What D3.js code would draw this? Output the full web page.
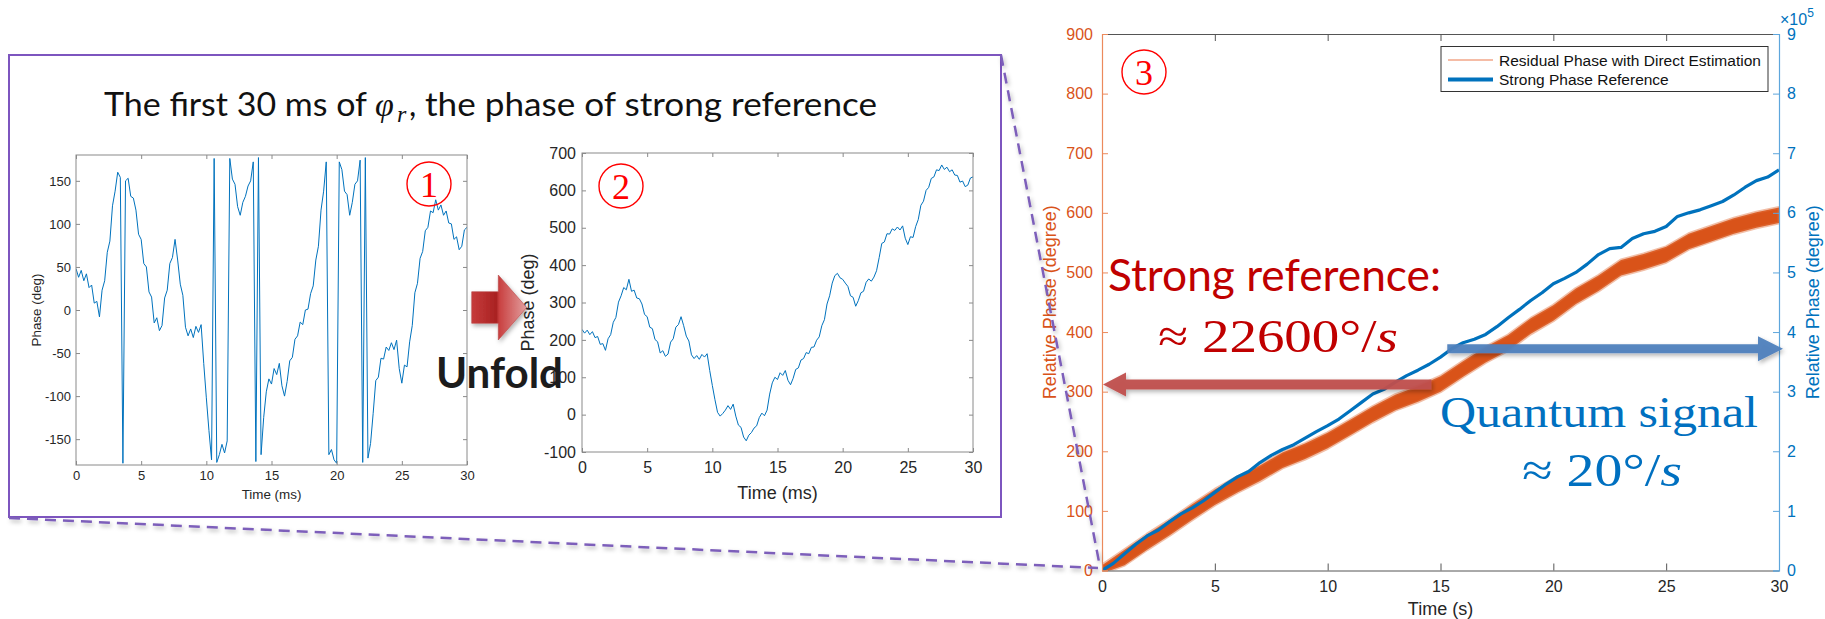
<!DOCTYPE html>
<html>
<head>
<meta charset="utf-8">
<script src="https://cdn.jsdelivr.net/npm/d3@7"></script>
<style>
  body { margin: 0; background: #fff; }
</style>
</head>
<body>
<div id="viz-wrapper"></div>
<script>
// ---------------- data ----------------
// unfolded phase of the strong reference, first 30 ms (deg), one sample every 0.2 ms
var sampleStep = 0.2;
var unfoldedPhase = [
  228, 218, 226, 214, 222, 206, 209, 188, 190, 172,
  203, 214, 247, 260, 301, 318, 340, 334, 362, 330,
  333, 312, 310, 296, 268, 262, 234, 230, 201, 195,
  165, 171, 156, 162, 194, 203, 234, 241, 262, 238,
  210, 197, 160, 150, 158, 148, 161, 154, 163, 118,
  78, 40, 6, -4, 3, 12, 24, 14, 28, -4,
  -28, -34, -60, -70, -55, -48, -36, -30, -8, 4,
  -3, 12, 55, 85, 100, 94, 112, 105, 118, 92,
  80, 97, 121, 125, 146, 150, 166, 163, 180, 181,
  199, 208, 238, 254, 296, 318, 352, 372, 378, 366,
  362, 352, 343, 318, 314, 290, 305, 326, 330, 354,
  363, 357, 368, 385, 420, 458, 462, 484, 483, 497,
  493, 502, 494, 505, 472, 455, 476, 474, 503, 522,
  560, 571, 600, 608, 632, 636, 655, 653, 668, 656,
  662, 650, 655, 641, 640, 622, 625, 610, 614, 633,
  636
];
var msTicks = [0, 5, 10, 15, 20, 25, 30];
var foldedTicks = [-150, -100, -50, 0, 50, 100, 150];
var unfoldedTicks = [-100, 0, 100, 200, 300, 400, 500, 600, 700];

// 30 s record: residual phase band edges (deg), every 1 s
var residualTime = [0, 1, 2, 3, 4, 5, 6, 7, 8, 9, 10, 11, 12, 13, 14, 15, 16, 17, 18, 19, 20, 21, 22, 23, 24, 25, 26, 27, 28, 29, 30];
var residualLow  = [-5, 9, 35, 59, 85, 110, 131, 150, 172, 187, 205, 227, 249, 269, 283, 300, 325, 349, 369, 397, 419, 447, 469, 495, 505, 517, 539, 552, 565, 575, 583];
var residualHigh = [9, 35, 61, 85, 111, 136, 157, 176, 198, 213, 231, 253, 275, 295, 309, 326, 351, 375, 395, 423, 445, 473, 495, 521, 531, 543, 565, 578, 591, 601, 609];
// strong phase reference (deg), every 0.5 s
var referenceTime = [0, 0.5, 1, 1.5, 2, 2.5, 3, 3.5, 4, 4.5, 5, 5.5, 6, 6.5, 7, 7.5, 8, 8.5, 9, 9.5, 10,
  10.5, 11, 11.5, 12, 12.5, 13, 13.5, 14, 14.5, 15, 15.5, 16, 16.5, 17, 17.5, 18, 18.5, 19, 19.5, 20,
  20.5, 21, 21.5, 22, 22.5, 23, 23.5, 24, 24.5, 25, 25.5, 26, 26.5, 27, 27.5, 28, 28.5, 29, 29.5, 30];
var referencePhase = [0, 12000, 28000, 44000, 58000, 68000, 82000, 95000, 105000, 117000, 131000,
  145000, 157000, 166000, 181000, 193000, 203000, 211000, 222000, 233000, 243000,
  254000, 268000, 282000, 296000, 304000, 316000, 327000, 336000, 346000, 358000,
  372000, 382000, 388000, 396000, 409000, 424000, 438000, 453000, 466000, 481000,
  490000, 500000, 514000, 530000, 540000, 542000, 557000, 565000, 569000, 577000,
  594000, 600000, 605000, 612000, 619000, 630000, 643000, 654000, 660000, 672000];
var secTicks = [0, 5, 10, 15, 20, 25, 30];
var leftTicks = [0, 100, 200, 300, 400, 500, 600, 700, 800, 900];
var rightTicks = [0, 100000, 200000, 300000, 400000, 500000, 600000, 700000, 800000, 900000];
var strongRate = 312;      // level pointed at by the red arrow (left axis)
var quantumLevel = 372000; // level pointed at by the blue arrow (right axis)

// ---------------- svg ----------------
var width = 1825, height = 619;
var helv = '"Liberation Sans", Arial, sans-serif';
var calibri = 'Lato, "Open Sans", sans-serif';
var serif = '"Liberation Serif", "DejaVu Serif", serif';

var svg = d3.select('#viz-wrapper').append('svg')
  .attr('width', width).attr('height', height)
  .attr('font-family', helv);
var defs = svg.append('defs');

var shadow = defs.append('filter').attr('id', 'shadow')
  .attr('x', '-20%').attr('y', '-40%').attr('width', '140%').attr('height', '180%');
shadow.append('feDropShadow').attr('dx', 1.5).attr('dy', 2.5)
  .attr('stdDeviation', 2).attr('flood-color', '#000').attr('flood-opacity', 0.3);

var grad = defs.append('linearGradient').attr('id', 'unfoldArrow')
  .attr('x1', '0%').attr('x2', '100%').attr('y1', '0%').attr('y2', '0%');
grad.append('stop').attr('offset', '0%').attr('stop-color', '#c63b3b');
grad.append('stop').attr('offset', '45%').attr('stop-color', '#a92222');
grad.append('stop').attr('offset', '50%').attr('stop-color', '#c94040');
grad.append('stop').attr('offset', '100%').attr('stop-color', '#e2a0a0');

// purple frame + title
svg.append('rect')
  .attr('x', 9).attr('y', 55).attr('width', 992).attr('height', 462)
  .attr('fill', 'none').attr('stroke', '#7d55bf').attr('stroke-width', 2);

svg.append('text').attr('x', 104).attr('y', 116)
  .attr('font-family', calibri).attr('font-size', 32).attr('fill', '#111')
  .attr('textLength', 263).attr('lengthAdjust', 'spacingAndGlyphs')
  .text('The first 30 ms of');
svg.append('text').attr('x', 375).attr('y', 116)
  .attr('font-family', serif).attr('font-style', 'italic')
  .attr('font-size', 34).attr('fill', '#111').text('φ');
svg.append('text').attr('x', 397).attr('y', 122)
  .attr('font-family', serif).attr('font-style', 'italic')
  .attr('font-size', 24).attr('fill', '#111').text('r');
svg.append('text').attr('x', 409).attr('y', 116)
  .attr('font-family', calibri).attr('font-size', 32).attr('fill', '#111').text(',');
svg.append('text').attr('x', 425).attr('y', 116)
  .attr('font-family', calibri).attr('font-size', 32).attr('fill', '#111')
  .attr('textLength', 452).attr('lengthAdjust', 'spacingAndGlyphs')
  .text('the phase of strong reference');

// circled panel numbers
function circled(cx, cy, label) {
  svg.append('circle').attr('cx', cx).attr('cy', cy).attr('r', 22)
    .attr('fill', 'none').attr('stroke', '#ff0000').attr('stroke-width', 1.4);
  svg.append('text').attr('x', cx).attr('y', cy + 12.5)
    .attr('text-anchor', 'middle').attr('fill', '#ff0000')
    .attr('font-family', serif).attr('font-size', 36)
    .text(label);
}

// MATLAB-like boxed panel for the 30 ms traces
function msPanel(id, f, yDomain, yTicks, values, o) {
  var x = d3.scaleLinear().domain([0, 30]).range([f.x0, f.x1]);
  var y = d3.scaleLinear().domain(yDomain).range([f.y1, f.y0]);
  var g = svg.append('g');

  defs.append('clipPath').attr('id', 'clip' + id).append('rect')
    .attr('x', f.x0).attr('y', f.y0).attr('width', f.x1 - f.x0).attr('height', f.y1 - f.y0);

  var line = d3.line()
    .x(function(d, i) { return x(i * sampleStep); })
    .y(function(d) { return y(d); });
  g.append('path').datum(values)
    .attr('clip-path', 'url(#clip' + id + ')')
    .attr('d', line).attr('fill', 'none')
    .attr('stroke', '#0072BD').attr('stroke-width', 1).attr('stroke-linejoin', 'round');

  var fmt = function(d) { return String(d); };
  var axes = [
    g.append('g').attr('transform', 'translate(0,' + f.y1 + ')')
      .call(d3.axisBottom(x).tickValues(msTicks).tickSize(-4).tickPadding(o.xpad).tickFormat(fmt)),
    g.append('g').attr('transform', 'translate(0,' + f.y0 + ')')
      .call(d3.axisTop(x).tickValues(msTicks).tickSize(-4).tickFormat('')),
    g.append('g').attr('transform', 'translate(' + f.x0 + ',0)')
      .call(d3.axisLeft(y).tickValues(yTicks).tickSize(-4).tickPadding(o.ypad).tickFormat(fmt)),
    g.append('g').attr('transform', 'translate(' + f.x1 + ',0)')
      .call(d3.axisRight(y).tickValues(yTicks).tickSize(-4).tickFormat(''))
  ];
  axes.forEach(function(a) {
    a.attr('font-family', helv);
    a.select('.domain').remove();
    a.selectAll('line').attr('stroke', '#8a8a8a');
    a.selectAll('text').attr('fill', '#262626').attr('font-size', o.tickFont);
  });
  g.append('rect').attr('x', f.x0).attr('y', f.y0)
    .attr('width', f.x1 - f.x0).attr('height', f.y1 - f.y0)
    .attr('fill', 'none').attr('stroke', '#8a8a8a').attr('stroke-width', 1);

  g.append('text').attr('x', (f.x0 + f.x1) / 2).attr('y', o.xlabY)
    .attr('text-anchor', 'middle').attr('fill', '#262626').attr('font-size', o.labFont)
    .text('Time (ms)');
  g.append('text')
    .attr('transform', 'translate(' + o.ylabX + ',' + (f.y0 + f.y1) / 2 + ') rotate(-90)')
    .attr('text-anchor', 'middle').attr('fill', '#262626').attr('font-size', o.labFont)
    .text('Phase (deg)');
}

// folded version of the same trace: wrapped into [-180, 180)
var foldedPhase = unfoldedPhase.map(function(p) { return ((p % 360) + 360) % 360 - 180; });

msPanel('p1', {x0: 76, x1: 467, y0: 155, y1: 465}, [-180, 180], foldedTicks, foldedPhase,
  {xpad: 6, ypad: 5, tickFont: 13, labFont: 13.4, xlabY: 499, ylabX: 41});
circled(429, 184, '1');

msPanel('p2', {x0: 582, x1: 973, y0: 153, y1: 452}, [-100, 700], unfoldedTicks, unfoldedPhase,
  {xpad: 10, ypad: 6, tickFont: 16, labFont: 18, xlabY: 499, ylabX: 534});
circled(621, 186, '2');

// "Unfold" block arrow
svg.append('path')
  .attr('d', 'M471.7,291.7 L498.3,291.7 L498.3,275 L526.7,307.5 L498.3,340 L498.3,323.3 L471.7,323.3 Z')
  .attr('fill', 'url(#unfoldArrow)').attr('stroke', '#b84a4a').attr('stroke-width', 0.6)
  .attr('filter', 'url(#shadow)');
svg.append('text').attr('x', 436).attr('y', 388)
  .attr('font-family', calibri).attr('font-weight', 700).attr('font-size', 42)
  .attr('fill', '#1c1c1c').attr('textLength', 127).attr('lengthAdjust', 'spacingAndGlyphs')
  .text('Unfold');

// ---------------- panel 3 ----------------
var f3 = {x0: 1102, x1: 1779, y0: 34, y1: 570.5};
var x3 = d3.scaleLinear().domain([0, 30]).range([f3.x0, f3.x1]);
var yL = d3.scaleLinear().domain([0, 900]).range([f3.y1, f3.y0]);
var yR = d3.scaleLinear().domain([0, 900000]).range([f3.y1, f3.y0]);
var orange = '#D95319', blue = '#0072BD';
var g3 = svg.append('g');

defs.append('clipPath').attr('id', 'clip3').append('rect')
  .attr('x', f3.x0).attr('y', f3.y0).attr('width', f3.x1 - f3.x0).attr('height', f3.y1 - f3.y0);

var band = d3.area()
  .x(function(d, i) { return x3(residualTime[i]); })
  .y0(function(d, i) { return yL(residualLow[i]); })
  .y1(function(d, i) { return yL(residualHigh[i]); });
g3.append('path').datum(residualTime)
  .attr('clip-path', 'url(#clip3)').attr('d', band)
  .attr('fill', orange).attr('stroke', '#e0703f').attr('stroke-width', 3).attr('stroke-opacity', 0.45)
  .attr('stroke-linejoin', 'round');

var refLine = d3.line()
  .x(function(d, i) { return x3(referenceTime[i]); })
  .y(function(d) { return yR(d); });
g3.append('path').datum(referencePhase)
  .attr('clip-path', 'url(#clip3)').attr('d', refLine)
  .attr('fill', 'none').attr('stroke', blue).attr('stroke-width', 3.2).attr('stroke-linejoin', 'round');

var a3 = [
  g3.append('g').attr('transform', 'translate(0,' + f3.y1 + ')')
    .call(d3.axisBottom(x3).tickValues(secTicks).tickSize(-7).tickPadding(10)),
  g3.append('g').attr('transform', 'translate(0,' + f3.y0 + ')')
    .call(d3.axisTop(x3).tickValues(secTicks).tickSize(-7).tickFormat(''))
];
a3.forEach(function(a) {
  a.attr('font-family', helv);
  a.select('.domain').attr('stroke', '#555').attr('stroke-width', 1);
  a.selectAll('line').attr('stroke', '#555');
  a.selectAll('text').attr('fill', '#262626').attr('font-size', 16);
});
var aL = g3.append('g').attr('transform', 'translate(' + f3.x0 + ',0)')
  .call(d3.axisLeft(yL).tickValues(leftTicks).tickSize(-6).tickPadding(9));
aL.attr('font-family', helv);
aL.select('.domain').attr('stroke', '#ec8a5c').attr('stroke-width', 1.2);
aL.selectAll('line').attr('stroke', '#ec8a5c');
aL.selectAll('text').attr('fill', orange).attr('font-size', 16);
var aR = g3.append('g').attr('transform', 'translate(' + f3.x1 + ',0)')
  .call(d3.axisRight(yR).tickValues(rightTicks).tickSize(-6).tickPadding(8)
    .tickFormat(function(d) { return String(d / 100000); }));
aR.attr('font-family', helv);
aR.select('.domain').attr('stroke', '#5ea6dc').attr('stroke-width', 1.2);
aR.selectAll('line').attr('stroke', '#5ea6dc');
aR.selectAll('text').attr('fill', blue).attr('font-size', 16);

var expo = g3.append('text').attr('x', f3.x1 + 1).attr('y', 25).attr('fill', blue).attr('font-size', 16);
expo.append('tspan').text('×10');
expo.append('tspan').attr('dy', -8).attr('font-size', 12).text('5');

g3.append('text').attr('x', (f3.x0 + f3.x1) / 2).attr('y', 615)
  .attr('text-anchor', 'middle').attr('fill', '#262626').attr('font-size', 18).text('Time (s)');
g3.append('text')
  .attr('transform', 'translate(1056,' + (f3.y0 + f3.y1) / 2 + ') rotate(-90)')
  .attr('text-anchor', 'middle').attr('fill', orange).attr('font-size', 18)
  .text('Relative Phase (degree)');
g3.append('text')
  .attr('transform', 'translate(1819,' + (f3.y0 + f3.y1) / 2 + ') rotate(-90)')
  .attr('text-anchor', 'middle').attr('fill', blue).attr('font-size', 18)
  .text('Relative Phase (degree)');

// legend
var lg = g3.append('g');
lg.append('rect').attr('x', 1441).attr('y', 46.5).attr('width', 327).attr('height', 45)
  .attr('fill', '#fff').attr('stroke', '#333').attr('stroke-width', 1);
lg.append('line').attr('x1', 1448).attr('x2', 1493).attr('y1', 60).attr('y2', 60)
  .attr('stroke', '#f2a688').attr('stroke-width', 1.6);
lg.append('line').attr('x1', 1448).attr('x2', 1493).attr('y1', 79.5).attr('y2', 79.5)
  .attr('stroke', blue).attr('stroke-width', 4);
lg.append('text').attr('x', 1499).attr('y', 65.5).attr('font-size', 15.5).attr('fill', '#111')
  .text('Residual Phase with Direct Estimation');
lg.append('text').attr('x', 1499).attr('y', 85).attr('font-size', 15.5).attr('fill', '#111')
  .text('Strong Phase Reference');

circled(1144, 72, '3');

// annotations
svg.append('text').attr('x', 1108).attr('y', 291)
  .attr('font-family', calibri).attr('font-size', 44).attr('fill', '#c00000')
  .attr('textLength', 333).attr('lengthAdjust', 'spacingAndGlyphs')
  .text('Strong reference:');
var rate1 = svg.append('text').attr('x', 1158).attr('y', 352)
  .attr('font-family', serif).attr('font-size', 47).attr('fill', '#c00000')
  .attr('textLength', 240).attr('lengthAdjust', 'spacingAndGlyphs');
rate1.append('tspan').text('≈ 22600°/');
rate1.append('tspan').attr('font-style', 'italic').text('s');

svg.append('text').attr('x', 1440).attr('y', 427)
  .attr('font-family', serif).attr('font-size', 45).attr('fill', '#0070c0')
  .attr('textLength', 318).attr('lengthAdjust', 'spacingAndGlyphs')
  .text('Quantum signal');
var rate2 = svg.append('text').attr('x', 1522).attr('y', 486)
  .attr('font-family', serif).attr('font-size', 47).attr('fill', '#0070c0')
  .attr('textLength', 160).attr('lengthAdjust', 'spacingAndGlyphs');
rate2.append('tspan').text('≈ 20°/');
rate2.append('tspan').attr('font-style', 'italic').text('s');

// horizontal block arrows pointing at the two axes
function blockArrow(xTail, xTip, yc, shaft, head, headLen, color) {
  var dir = xTip > xTail ? 1 : -1;
  var xb = xTip - dir * headLen;
  var pts = [[xTail, yc - shaft / 2], [xb, yc - shaft / 2], [xb, yc - head / 2], [xTip, yc],
             [xb, yc + head / 2], [xb, yc + shaft / 2], [xTail, yc + shaft / 2]];
  svg.append('path').attr('d', 'M' + pts.join('L') + 'Z')
    .attr('fill', color).attr('fill-opacity', 0.95).attr('filter', 'url(#shadow)');
}
blockArrow(x3(14.6), x3(0) + 1, yL(strongRate), 10, 24, 23, '#c0504d');
blockArrow(x3(15.3), x3.range()[1] + 4, yR(quantumLevel), 9, 25, 25, '#4f81bd');

// dashed zoom guides
svg.append('g').attr('filter', 'url(#shadow)').selectAll('line')
  .data([[1001, 55, 1100, 567], [9, 518, 1098, 568]])
  .enter().append('line')
  .attr('x1', function(d) { return d[0]; }).attr('y1', function(d) { return d[1]; })
  .attr('x2', function(d) { return d[2]; }).attr('y2', function(d) { return d[3]; })
  .attr('stroke', '#7d5fba').attr('stroke-width', 2.5).attr('stroke-dasharray', '11,7');
</script>
</body>
</html>
